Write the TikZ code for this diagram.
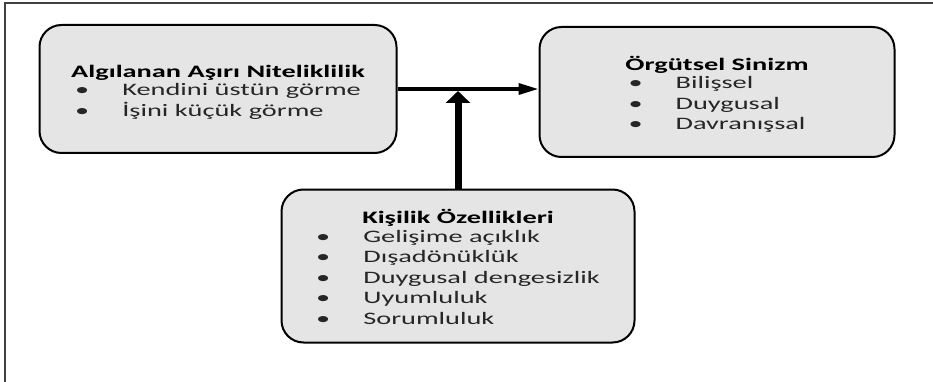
\documentclass[tikz,border=0pt]{standalone}
\usepackage{fontspec}
\setmainfont{Carlito}[FakeStretch=1.62]
\usepackage{tikz}
\usetikzlibrary{arrows.meta,positioning,calc}
\newcommand{\itemrows}[1]{\begin{tabular}{@{}l@{\hspace{33pt}}l@{}}#1\end{tabular}}
\newcommand{\boxtitle}[1]{\rule{0pt}{22pt}\textcolor{black}{\textbf{#1}}}
\tikzset{
	traitbox/.style={rectangle, draw=black, line width=2pt, rounded corners=22pt, fill=gray!20,
		align=center, font=\fontsize{17.5}{20.5}\selectfont, inner sep=3pt, text=black!85},
	linkarr/.style={-{Triangle[length=20pt,width=11pt]}, line width=3.5pt},
	bigarr/.style={-{Triangle[length=12pt,width=24pt]}, line width=7pt},
	frameline/.style={draw=black!75, line width=2pt}
}

\begin{document}
\begin{tikzpicture}[x=1pt,y=-1pt]
	\useasboundingbox (0,0) rectangle (933,382);
	\draw[frameline] (5,382) -- (5,3) -- (933,3);
	\node[traitbox, minimum width=357pt, minimum height=128pt] (ani) at (218,89)
		{\boxtitle{Algılanan Aşırı Niteliklilik}\\
		\itemrows{\textbullet & Kendini üstün görme\\ \textbullet & İşini küçük görme}};
	\node[traitbox, minimum width=355pt, minimum height=130pt] (os) at (717,92)
		{\boxtitle{Örgütsel Sinizm}\\
		\itemrows{\textbullet & Bilişsel\\ \textbullet & Duygusal\\ \textbullet & Davranışsal}};
	\node[traitbox, minimum width=353pt, minimum height=153pt] (kz) at (458,266)
		{\boxtitle{Kişilik Özellikleri}\\
		\itemrows{\textbullet & Gelişime açıklık\\ \textbullet & Dışadönüklük\\
		\textbullet & Duygusal dengesizlik\\ \textbullet & Uyumluluk\\ \textbullet & Sorumluluk}};
	\coordinate (j) at ($(ani.east)!(kz.north)!(os.west |- ani.east)$);
	\draw[linkarr] (ani.east) -- (os.west |- ani.east);
	\draw[bigarr] (kz.north) -- ([yshift=-2pt]j);
\end{tikzpicture}
\end{document}
